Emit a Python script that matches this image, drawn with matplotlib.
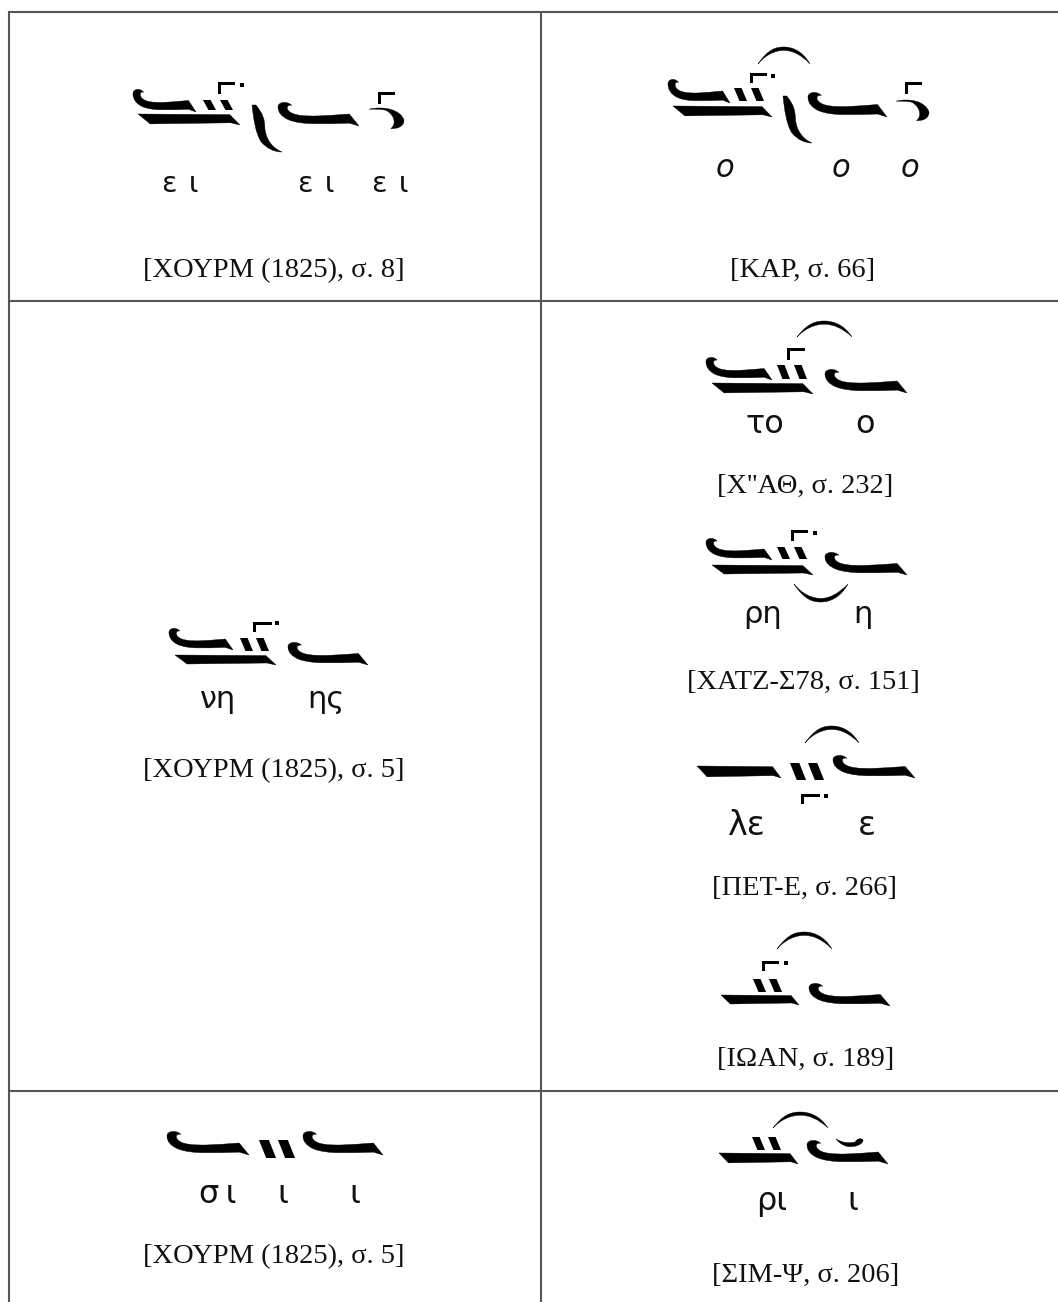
import numpy as np
import matplotlib
matplotlib.use("Agg")
import matplotlib.pyplot as plt
from matplotlib.path import Path
from matplotlib.patches import PathPatch

# text of the table
captions = [
    "[ΧΟΥΡΜ (1825), σ. 8]",
    "[ΚΑΡ, σ. 66]",
    "[ΧΟΥΡΜ (1825), σ. 5]",
    "[Χ''ΑΘ, σ. 232]",
    "[ΧΑΤΖ-Σ78, σ. 151]",
    "[ΠΕΤ-Ε, σ. 266]",
    "[ΙΩΑΝ, σ. 189]",
    "[ΧΟΥΡΜ (1825), σ. 5]",
    "[ΣΙΜ-Ψ, σ. 206]",
]
syll_ei = ["ε\u2009\u2009ι", "ε\u2009\u2009ι", "ε\u2009\u2009ι"]
syll_o = ["ο", "ο", "ο"]
syll_ni = ["νη", "ης"]
syll_to = ["το", "ο"]
syll_ri = ["ρη", "η"]
syll_le = ["λε", "ε"]
syll_si = ["σ\u2009ι", "ι", "ι"]
syll_rhoi = ["ρι", "ι"]

LINE = "#555555"


def make_path(start, segs):
    verts = [start]
    codes = [Path.MOVETO]
    for s in segs:
        if len(s) == 3:
            verts += list(s)
            codes += [Path.CURVE4] * 3
        else:
            verts += list(s)
            codes += [Path.LINETO]
    verts.append(start)
    codes.append(Path.CLOSEPOLY)
    return Path(np.array(verts, dtype=float), codes)


# neume shapes in a unit box, y pointing down
HOOK = make_path((0.0, 0.2), [
    ((0.0, 0.0), (0.11, -0.06), (0.17, 0.14)),
    ((0.13, 0.1), (0.09, 0.2), (0.13, 0.36)),
    ((0.18, 0.56), (0.32, 0.6), (0.5, 0.58)),
    ((0.6, 0.57), (0.75, 0.53), (0.88, 0.5)),
    ((1.0, 1.0),),
    ((0.88, 0.88),),
    ((0.6, 0.9), (0.3, 0.98), (0.13, 0.74)),
    ((0.05, 0.62), (0.0, 0.45), (0.0, 0.2)),
])
BAR = make_path((0.0, 0.0), [
    ((0.9, 0.06),),
    ((1.0, 1.0),),
    ((0.91, 0.8),),
    ((0.12, 0.9),),
])
VAREIA = make_path((0.0, 0.0), [
    ((0.05, 0.3), (0.12, 0.6), (0.3, 0.78)),
    ((0.5, 0.93), (0.75, 1.0), (1.0, 1.0)),
    ((0.7, 0.92), (0.47, 0.75), (0.43, 0.5)),
    ((0.42, 0.3), (0.38, 0.2), (0.13, 0.0)),
])
FIVE = make_path((0.0, 0.1), [
    ((0.4, -0.05), (0.9, 0.1), (1.0, 0.6)),
    ((1.0, 0.9), (0.8, 1.0), (0.62, 0.98)),
    ((0.78, 0.8), (0.75, 0.4), (0.5, 0.16)),
    ((0.35, 0.08), (0.15, 0.1), (0.0, 0.1)),
])
ARC_UP = make_path((0.0, 1.0), [
    ((0.2, 0.1), (0.35, 0.0), (0.5, 0.0)),
    ((0.65, 0.0), (0.85, 0.2), (1.0, 1.0)),
    ((0.82, 0.42), (0.65, 0.2), (0.5, 0.2)),
    ((0.33, 0.2), (0.15, 0.45), (0.0, 1.0)),
])
ARC_DOWN = make_path((0.0, 0.0), [
    ((0.15, 0.55), (0.33, 0.8), (0.5, 0.8)),
    ((0.65, 0.8), (0.82, 0.55), (1.0, 0.0)),
    ((0.85, 0.8), (0.65, 1.0), (0.5, 1.0)),
    ((0.35, 1.0), (0.2, 0.9), (0.0, 0.0)),
])
CURL = make_path((0.0, 0.1), [
    ((0.2, 0.5), (0.5, 0.65), (0.72, 0.42)),
    ((0.76, 0.12), (0.9, -0.05), (1.0, 0.2)),
    ((1.02, 0.7), (0.7, 1.05), (0.45, 0.95)),
    ((0.25, 0.85), (0.1, 0.5), (0.0, 0.1)),
])


def glyph(ax, unit, x, y, w, h):
    verts = unit.vertices * [w, h] + [x, y]
    ax.add_patch(PathPatch(Path(verts, unit.codes), fc="black", ec="black", lw=0.3))


def kentemata(ax, x, y, w, h, gap):
    for x0 in (x, x + gap):
        xs = [x0, x0 + 0.58 * w, x0 + w, x0 + 0.42 * w]
        ys = [y, y, y + h, y + h]
        ax.fill(xs, ys, color="black", lw=0)


def gamma(ax, x, y, w, h, dot=None):
    ax.fill([x, x + 3, x + 3, x], [y, y, y + h, y + h], color="black", lw=0)
    ax.fill([x, x + w, x + w, x], [y, y, y + 2.6, y + 2.6], color="black", lw=0)
    if dot is not None:
        ax.fill([dot[0] - 2, dot[0] + 2, dot[0] + 2, dot[0] - 2],
                [dot[1] - 2, dot[1] - 2, dot[1] + 2, dot[1] + 2], color="black", lw=0)


def syllables(ax, labels, centers, base, size=23, italic=False):
    for lab, cx in zip(labels, centers):
        ax.text(cx, base, lab, ha="center", va="baseline", fontsize=size,
                family="DejaVu Sans", style="italic" if italic else "normal", color="#111111")


CAP_SIZE = 20.5

fig = plt.figure(figsize=(10.58, 13.02), dpi=100)
ax = fig.add_axes([0, 0, 1, 1])
ax.set_xlim(0, 1058)
ax.set_ylim(1302, 0)
ax.axis("off")

# table rules, no right or bottom border in the crop
for y in (12, 301, 1090.5):
    ax.plot([8, 1058], [y, y], color=LINE, lw=1.5, solid_capstyle="butt")
for x in (8.8, 541):
    ax.plot([x, x], [11, 1302], color=LINE, lw=1.5, solid_capstyle="butt")

# row 1 left
glyph(ax, HOOK, 133, 89, 63, 23)
glyph(ax, BAR, 138, 114, 102, 11)
kentemata(ax, 203, 100, 13, 10, 17)
gamma(ax, 218, 82, 17, 12, (242, 85))
glyph(ax, VAREIA, 252, 105, 30, 47)
glyph(ax, HOOK, 278, 102, 81, 24)
gamma(ax, 378, 92, 17, 12)
glyph(ax, FIVE, 369, 107, 35, 22)
syllables(ax, syll_ei, [180, 316, 390], 192, size=20.5)

# row 1 right
glyph(ax, HOOK, 668, 79, 62, 24)
glyph(ax, BAR, 673, 106, 99, 11)
kentemata(ax, 734, 88, 13, 13, 17)
gamma(ax, 750, 73, 17, 10, (773, 76))
glyph(ax, ARC_UP, 758, 47, 52, 17)
glyph(ax, VAREIA, 783, 96, 29, 47)
glyph(ax, HOOK, 808, 92, 79, 25)
gamma(ax, 905, 82, 17, 12)
glyph(ax, FIVE, 896, 99, 33, 22)
syllables(ax, syll_o, [725, 841, 910], 177, size=22, italic=True)

# row 2 left
glyph(ax, HOOK, 169, 628, 64, 22)
glyph(ax, BAR, 175, 655, 101, 10)
kentemata(ax, 240, 638, 13, 13, 16)
gamma(ax, 253, 622, 19, 10, (277, 623))
glyph(ax, HOOK, 288, 642, 80, 23)
syllables(ax, syll_ni, [218, 326], 708, size=22)

# row 2 right, first example
glyph(ax, HOOK, 706, 357, 66, 23)
glyph(ax, BAR, 712, 383, 101, 11)
kentemata(ax, 777, 365, 13, 14, 17)
gamma(ax, 787, 348, 18, 12)
glyph(ax, ARC_UP, 797, 321, 55, 16)
glyph(ax, HOOK, 825, 369, 82, 24)
syllables(ax, syll_to, [765, 865], 433)

# second example
glyph(ax, HOOK, 706, 538, 66, 22)
glyph(ax, BAR, 712, 565, 101, 10)
kentemata(ax, 777, 547, 13, 12, 17)
gamma(ax, 791, 530, 17, 11, (815, 533))
glyph(ax, HOOK, 825, 552, 82, 23)
glyph(ax, ARC_DOWN, 794, 584, 54, 18)
syllables(ax, syll_ri, [763, 863], 623, size=22)

# third example
glyph(ax, BAR, 697, 766, 84, 12)
kentemata(ax, 790, 763, 16, 17, 18)
gamma(ax, 801, 794, 19, 10, (826, 796))
glyph(ax, ARC_UP, 805, 726, 54, 17)
glyph(ax, HOOK, 833, 755, 82, 23)
syllables(ax, syll_le, [747, 867], 835, size=24)

# fourth example
glyph(ax, BAR, 721, 995, 78, 10)
kentemata(ax, 753, 979, 13, 13, 16)
gamma(ax, 762, 961, 17, 10, (786, 963))
glyph(ax, ARC_UP, 777, 932, 55, 17)
glyph(ax, HOOK, 809, 983, 81, 23)

# row 3 left
glyph(ax, HOOK, 167, 1131, 82, 24)
kentemata(ax, 259, 1140, 17, 18, 19)
glyph(ax, HOOK, 303, 1131, 80, 24)
syllables(ax, syll_si, [218, 283, 355], 1203)

# row 3 right
glyph(ax, BAR, 719, 1153, 79, 11)
kentemata(ax, 752, 1137, 13, 13, 16)
glyph(ax, ARC_UP, 773, 1112, 55, 16)
glyph(ax, HOOK, 807, 1140, 81, 24)
glyph(ax, CURL, 836, 1138, 27, 9)
syllables(ax, syll_rhoi, [772, 853], 1210)

# source captions
cap_x = [274, 803, 274, 805, 803, 805, 806, 274, 806]
cap_y = [277, 277, 777, 493, 689, 895, 1066, 1263, 1282]
for text, cx, cy in zip(captions, cap_x, cap_y):
    ax.text(cx, cy, text, ha="center", va="baseline", fontsize=CAP_SIZE,
            family="Liberation Serif", color="#111111")

fig.savefig("out.png", dpi=100)
